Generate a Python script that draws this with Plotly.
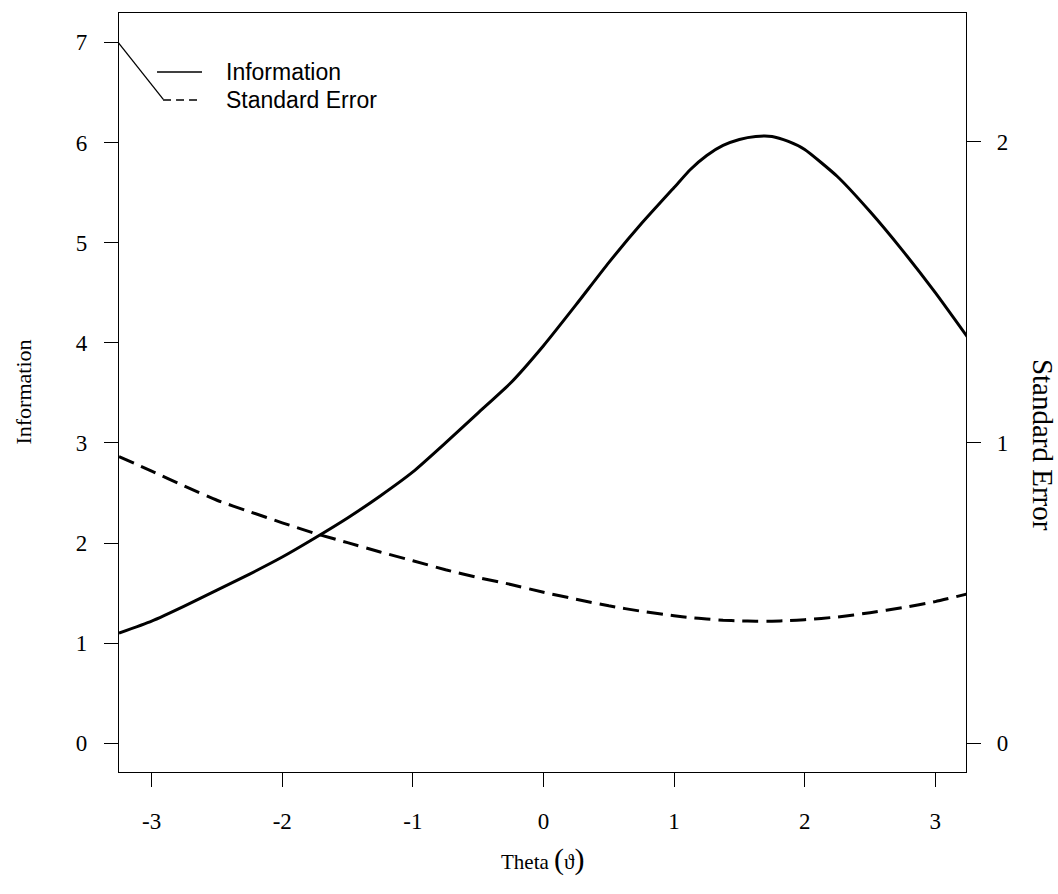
import plotly.graph_objects as go

# ---- data ----
theta = [-3.25, -3.0, -2.75, -2.5, -2.25, -2.0, -1.75, -1.5, -1.25, -1.0,
         -0.75, -0.5, -0.25, 0.0, 0.25, 0.5, 0.75, 1.0, 1.125, 1.25, 1.375, 1.5,
         1.625, 1.75, 1.875, 2.0, 2.25, 2.5, 2.75, 3.0, 3.25]
information = [1.10, 1.22, 1.37, 1.53, 1.69, 1.86, 2.05, 2.25, 2.47, 2.71,
               3.00, 3.30, 3.60, 3.97, 4.38, 4.80, 5.19, 5.55, 5.73, 5.87, 5.97, 6.03,
               6.06, 6.06, 6.01, 5.93, 5.66, 5.31, 4.92, 4.50, 4.05]
std_error = [0.953, 0.905, 0.855, 0.808, 0.770, 0.733, 0.698, 0.667, 0.636, 0.607,
             0.577, 0.551, 0.528, 0.502, 0.479, 0.457, 0.439, 0.424, 0.418, 0.413, 0.409, 0.407,
             0.406, 0.406, 0.408, 0.411, 0.420, 0.434, 0.451, 0.471, 0.497]

x_ticks = [-3, -2, -1, 0, 1, 2, 3]
x_ticktext = ["-3", "-2", "-1", "0", "1", "2", "3"]
y1_ticks = [0, 1, 2, 3, 4, 5, 6, 7]
y2_ticks = [0, 1, 2]
legend_names = ["Information", "Standard Error"]

SERIF = "Liberation Serif"
SANS = "Liberation Sans"

fig = go.Figure()
fig.add_trace(go.Scatter(x=theta, y=information, mode="lines", name=legend_names[0],
                         line=dict(color="black", width=3, shape="spline", smoothing=0.5),
                         yaxis="y", showlegend=False))
fig.add_trace(go.Scatter(x=theta, y=std_error, mode="lines", name=legend_names[1],
                         line=dict(color="black", width=3, dash="16px,8px", shape="spline", smoothing=0.5),
                         yaxis="y2", showlegend=False))

axis_common = dict(showgrid=False, zeroline=False, ticks="outside", ticklen=14,
                   tickwidth=1.3, tickcolor="black", linecolor="black", linewidth=1.3,
                   tickfont=dict(family=SERIF, size=23, color="black"))

fig.update_layout(
    width=1058, height=894,
    margin=dict(l=119, r=92, t=13, b=122),
    paper_bgcolor="white", plot_bgcolor="white",
    showlegend=False,
    xaxis=dict(range=[-3.25, 3.235], tickvals=x_ticks, ticktext=x_ticktext,
               showline=True, mirror=True, ticklabelstandoff=14, **axis_common),
    yaxis=dict(range=[-0.2866, 7.2926], tickvals=y1_ticks, ticktext=[str(v) for v in y1_ticks],
               showline=True, ticklabelstandoff=12, **axis_common),
    yaxis2=dict(range=[-0.0954, 2.4279], tickvals=y2_ticks, ticktext=[str(v) for v in y2_ticks],
                overlaying="y", side="right", showline=True, ticklabelstandoff=11, **axis_common),
)

# axis titles
fig.add_annotation(text="Information", xref="paper", yref="paper", x=-0.1133, y=0.5,
                   textangle=-90, showarrow=False, xanchor="center", yanchor="middle",
                   font=dict(family=SERIF, size=22, color="black"))
fig.add_annotation(text="Standard Error", xref="paper", yref="paper", x=1.0909, y=0.431,
                   textangle=90, showarrow=False, xanchor="center", yanchor="middle",
                   font=dict(family=SERIF, size=29, color="black"))
fig.add_annotation(text='Theta <span style="font-size:30px">(</span>ϑ<span style="font-size:30px">)</span>',
                   xref="paper", yref="paper", x=0.5, y=-0.114, showarrow=False,
                   xanchor="center", yanchor="middle",
                   font=dict(family=SERIF, size=21, color="black"))

# manual legend (top-left, inside plot)
legend_rows = [(0.9223, "solid", 0.0449), (0.8854, "dash", 0.0520)]
for (yy, dash, x0), name in zip(legend_rows, legend_names):
    fig.add_shape(type="line", xref="paper", yref="paper", x0=x0, x1=0.098, y0=yy, y1=yy,
                  line=dict(color="black", width=1.4, dash="8px,5px" if dash == "dash" else "solid"))
    fig.add_annotation(text=name, xref="paper", yref="paper", x=0.124, y=yy, showarrow=False,
                       xanchor="left", yanchor="middle",
                       font=dict(family=SANS, size=23, color="black"))
# connector stroke from the corner to the legend
fig.add_shape(type="line", xref="paper", yref="paper", x0=-0.0008, y0=0.9609, x1=0.0523, y1=0.8863,
              line=dict(color="black", width=1.3))

fig.write_html("out.html")
